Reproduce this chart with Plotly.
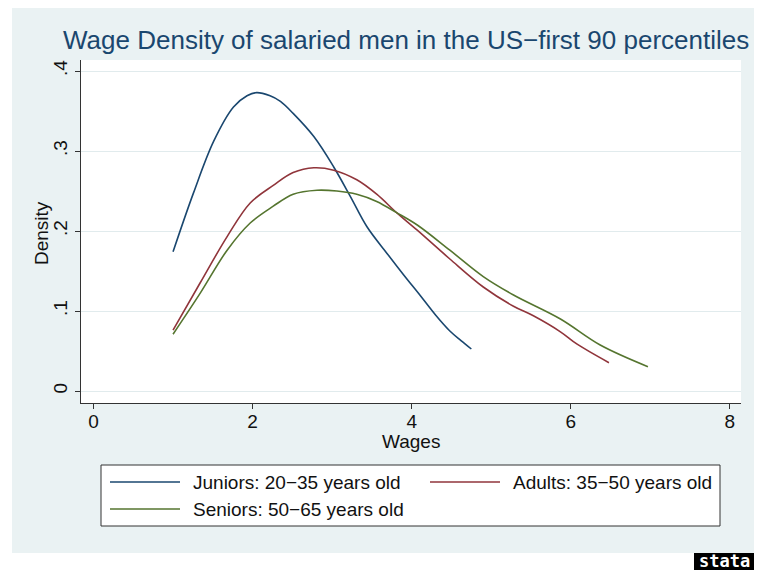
import plotly.graph_objects as go

# ── Stata s2color look ───────────────────────────────────────────────────────
NAVY = "#1a476f"
MAROON = "#90353b"
FOREST = "#55752f"
BG = "#eaf2f3"
GRID = "#e1ebed"
FONT = "Liberation Sans, Arial, sans-serif"

# ── Data (kernel densities) ──────────────────────────────────────────────────
juniors_x = [1.00, 1.255, 1.51, 1.76, 1.93, 2.05, 2.22, 2.35, 2.51, 2.77, 3.02,
             3.23, 3.44, 3.69, 3.90, 4.11, 4.30, 4.48, 4.62, 4.75]
juniors_y = [0.174, 0.247, 0.312, 0.355, 0.369, 0.373, 0.369, 0.362, 0.347, 0.318,
             0.280, 0.243, 0.205, 0.172, 0.145, 0.119, 0.095, 0.075, 0.063, 0.0525]

adults_x = [1.00, 1.34, 1.68, 1.97, 2.26, 2.51, 2.77, 3.02, 3.31, 3.56, 3.81, 4.07,
            4.48, 4.90, 5.28, 5.53, 5.87, 6.08, 6.48]
adults_y = [0.076, 0.135, 0.193, 0.235, 0.257, 0.273, 0.279, 0.276, 0.264, 0.246, 0.223,
            0.201, 0.165, 0.130, 0.106, 0.094, 0.074, 0.0585, 0.0354]

seniors_x = [1.00, 1.34, 1.68, 1.97, 2.26, 2.51, 2.81, 3.06, 3.31, 3.56, 3.81, 4.07,
             4.48, 4.90, 5.28, 5.87, 6.37, 6.97]
seniors_y = [0.071, 0.122, 0.176, 0.210, 0.231, 0.246, 0.251, 0.250, 0.246, 0.237, 0.223,
             0.2075, 0.176, 0.143, 0.120, 0.090, 0.0575, 0.0304]

series = [
    ("Juniors: 20\u221235 years old", juniors_x, juniors_y, NAVY),
    ("Adults: 35\u221250 years old", adults_x, adults_y, MAROON),
    ("Seniors: 50\u221265 years old", seniors_x, seniors_y, FOREST),
]

y_ticks = [0, 0.1, 0.2, 0.3, 0.4]
y_ticktext = ["0", ".1", ".2", ".3", ".4"]
x_ticks = [0, 2, 4, 6, 8]

# page has an 8px body margin; positions below are page pixels
OFF = 8
W, H = 762 - 2 * OFF, 574 - OFF
L, R, T, B = 81, 741, 60, 403  # plot area on the page


def px_x(px):
    return (px - L) / (R - L)


def px_y(py):
    return (B - py) / (B - T)


fig = go.Figure()
for name, xs, ys, color in series:
    fig.add_trace(go.Scatter(
        x=xs, y=ys, mode="lines", name=name,
        line=dict(color=color, width=1.6, shape="spline", smoothing=1.0),
        showlegend=False,
    ))

shapes = [
    # outer graph region
    dict(type="rect", xref="paper", yref="paper", layer="below",
         x0=px_x(12), x1=px_x(770), y0=px_y(553), y1=px_y(0),
         fillcolor=BG, line=dict(width=0)),
    # plot region
    dict(type="rect", xref="paper", yref="paper", layer="below",
         x0=0, x1=1, y0=0, y1=1, fillcolor="white", line=dict(width=0)),
    # legend box
    dict(type="rect", xref="paper", yref="paper", layer="below",
         x0=px_x(101), x1=px_x(720), y0=px_y(526), y1=px_y(465),
         fillcolor="white", line=dict(color="#333333", width=1)),
    # stata logo block
    dict(type="rect", xref="paper", yref="paper",
         x0=px_x(694), x1=px_x(754), y0=px_y(570), y1=px_y(553),
         fillcolor="black", line=dict(width=0)),
]

annotations = [
    dict(text="Wage Density of salaried men in the US\u2212first 90 percentiles",
         xref="paper", yref="paper", x=px_x(61), y=px_y(40),
         xanchor="left", yanchor="middle", showarrow=False,
         font=dict(size=26, color=NAVY, family=FONT)),
    dict(text="Density", xref="paper", yref="paper", x=px_x(42), y=px_y(233),
         xanchor="center", yanchor="middle", textangle=-90, showarrow=False,
         font=dict(size=19, color="#111111", family=FONT)),
    dict(text="Wages", xref="paper", yref="paper", x=px_x(411), y=px_y(441),
         xanchor="center", yanchor="middle", showarrow=False,
         font=dict(size=19, color="#111111", family=FONT)),
    # stata logo text
    dict(text="<b>stata</b>", xref="paper", yref="paper", x=px_x(724), y=px_y(561),
         xanchor="center", yanchor="middle", showarrow=False,
         font=dict(size=17, color="white", family="DejaVu Sans Mono, monospace")),
]

legend_pos = [(110, 482), (430, 482), (110, 509)]
for (name, _, _, color), (lx, ly) in zip(series, legend_pos):
    shapes.append(dict(type="line", xref="paper", yref="paper",
                       x0=px_x(lx), x1=px_x(lx + 70), y0=px_y(ly), y1=px_y(ly),
                       line=dict(color=color, width=1.6)))
    annotations.append(dict(text=name, xref="paper", yref="paper",
                            x=px_x(lx + 81), y=px_y(ly), xanchor="left", yanchor="middle",
                            showarrow=False, font=dict(size=19, color="#111111", family=FONT)))

fig.update_layout(
    width=W, height=H,
    margin=dict(l=L - OFF, r=(W + OFF) - R, t=T - OFF, b=(H + OFF) - B),
    paper_bgcolor="white",
    plot_bgcolor="white",
    font=dict(family=FONT, size=19, color="#111111"),
    shapes=shapes,
    annotations=annotations,
    showlegend=False,
    xaxis=dict(
        range=[-0.157, 8.14], tickvals=x_ticks, ticks="outside", ticklen=5,
        tickcolor="#333333", showgrid=False, zeroline=False,
        showline=True, linecolor="#333333", linewidth=1,
        tickfont=dict(size=19), ticklabelstandoff=-4,
    ),
    yaxis=dict(
        range=[-0.015, 0.41375], tickvals=y_ticks, ticktext=y_ticktext,
        tickangle=-90, ticks="outside", ticklen=5, tickcolor="#333333",
        showgrid=True, gridcolor=GRID, gridwidth=1.2, zeroline=False,
        showline=True, linecolor="#333333", linewidth=1,
        tickfont=dict(size=19),
    ),
)

fig.write_html("out.html")
